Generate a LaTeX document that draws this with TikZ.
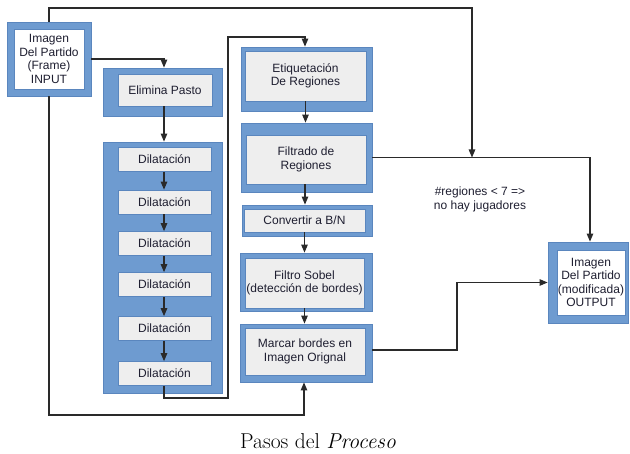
\documentclass[tikz,border=0pt]{standalone}
\usepackage{fontspec}
\newfontfamily\boxfont{Liberation Sans}
\usetikzlibrary{arrows.meta}
\definecolor{frameblue}{HTML}{6E9BD0}
\definecolor{edgeblue}{HTML}{5A86BE}
\definecolor{innergrey}{HTML}{EEEEEE}
\definecolor{linegrey}{HTML}{2A2A2A}
\definecolor{txt}{HTML}{1E1E30}
\begin{document}
\begin{tikzpicture}[x=1pt,y=-1pt,
  outerbox/.style={draw=edgeblue,fill=frameblue,line width=0.8pt,inner sep=0pt},
  innerbox/.style={draw=edgeblue,fill=innergrey,line width=0.7pt,inner sep=0pt,align=center,
     font=\boxfont\fontsize{12}{13.5}\selectfont,text=txt},
  whitebox/.style={innerbox,fill=white},
  conn/.style={draw=linegrey,line width=1.1pt},
  arr/.style={conn,-{Triangle[length=8pt,width=6.5pt]}},
  lbl/.style={align=center,font=\boxfont\fontsize{12}{13.5}\selectfont,text=txt,inner sep=0pt}]
\useasboundingbox (0,0) rectangle (630,454);
% boxes
\node[outerbox,minimum width=84,minimum height=74] (inO) at (49,59) {};
\node[whitebox,minimum width=70,minimum height=60] (in) at (49,59) {Imagen\\Del Partido\\(Frame)\\INPUT};
\node[outerbox,minimum width=119,minimum height=48] (elimO) at (162.5,92) {};
\node[innerbox,minimum width=94,minimum height=32] (elim) at (165,90) {Elimina Pasto};
\node[outerbox,minimum width=119,minimum height=251] (dilO) at (162.5,267.5) {};
\foreach \n/\y in {1/159.5,2/202,3/243.5,4/284.5,5/328.5,6/373.5}
  \node[innerbox,minimum width=93,minimum height=24] (d\n) at (164.5,\y) {Dilataci\'on};
\node[outerbox,minimum width=131,minimum height=64] (etiqO) at (306.5,79) {};
\node[innerbox,minimum width=121,minimum height=50] (etiq) at (305.5,76) {Etiquetaci\'on\\De Regiones};
\node[outerbox,minimum width=131,minimum height=69] (filO) at (306.5,157.5) {};
\node[innerbox,minimum width=120,minimum height=49] (fil) at (306,159.5) {Filtrado de\\Regiones};
\node[outerbox,minimum width=130,minimum height=31] (convO) at (307,220.5) {};
\node[innerbox,minimum width=121,minimum height=23] (conv) at (304.5,220.5) {Convertir a B/N};
\node[outerbox,minimum width=132,minimum height=58] (sobO) at (306,282) {};
\node[innerbox,minimum width=119,minimum height=50] (sob) at (304.5,283) {Filtro Sobel\\(detecci\'on de bordes)};
\node[outerbox,minimum width=132,minimum height=58] (marO) at (306,353) {};
\node[innerbox,minimum width=120,minimum height=47] (mar) at (305,351.5) {Marcar bordes en\\Imagen Orignal};
\node[outerbox,minimum width=80,minimum height=81] (outO) at (588,282.5) {};
\node[whitebox,minimum width=68,minimum height=65] (out) at (591,282.5) {Imagen\\Del Partido\\(modificada)\\OUTPUT};
% label and caption
\node[lbl] (cond) at (480,199.5) {\#regiones < 7 =>\\no hay jugadores};
\node[font=\fontsize{21.5}{25}\selectfont,inner sep=0pt] (cap) at (318,441) {Pasos del \textit{Proceso}};
% coordinates
\coordinate (tr) at (472,8);
\coordinate (jn) at (472,157.5);
\coordinate (b1) at (228,398);
\coordinate (b2) at (228,37);
\coordinate (bl) at (49,415);
\coordinate (m1) at (457,350);
% connectors
\draw[arr] (inO.north) |- (tr) -- (jn);
\draw[arr] (filO.east) -| ([xshift=2pt]outO.north);
\draw[arr] (inO.east) -| ([xshift=1.5pt]elimO.north);
\draw[arr] ([xshift=-1pt]elim.south) -- ([xshift=-1pt]elim.south |- dilO.north);
\foreach \a/\b in {1/2,2/3,3/4,4/5,5/6}
  \draw[arr] ([xshift=-0.5pt]d\a.south) -- ([xshift=-0.5pt]d\b.north);
\draw[arr] ([xshift=-0.5pt]d6.south) |- (b1) -- (b2) -| ([xshift=-1.5pt]etiqO.north);
\draw[arr] (etiq.south) -- (etiq.south |- filO.north);
\draw[arr] ([xshift=-1pt]fil.south) -- ([xshift=-1pt]fil.south |- convO.north);
\draw[arr] (conv.south) -- (conv.south |- sobO.north);
\draw[arr] (sob.south) -- (sob.south |- marO.north);
\draw[arr] (inO.south) |- (bl) -| ([xshift=-2pt]marO.south);
\draw[arr] (m1 -| marO.east) -- (m1) |- (outO.west);
\end{tikzpicture}
\end{document}
